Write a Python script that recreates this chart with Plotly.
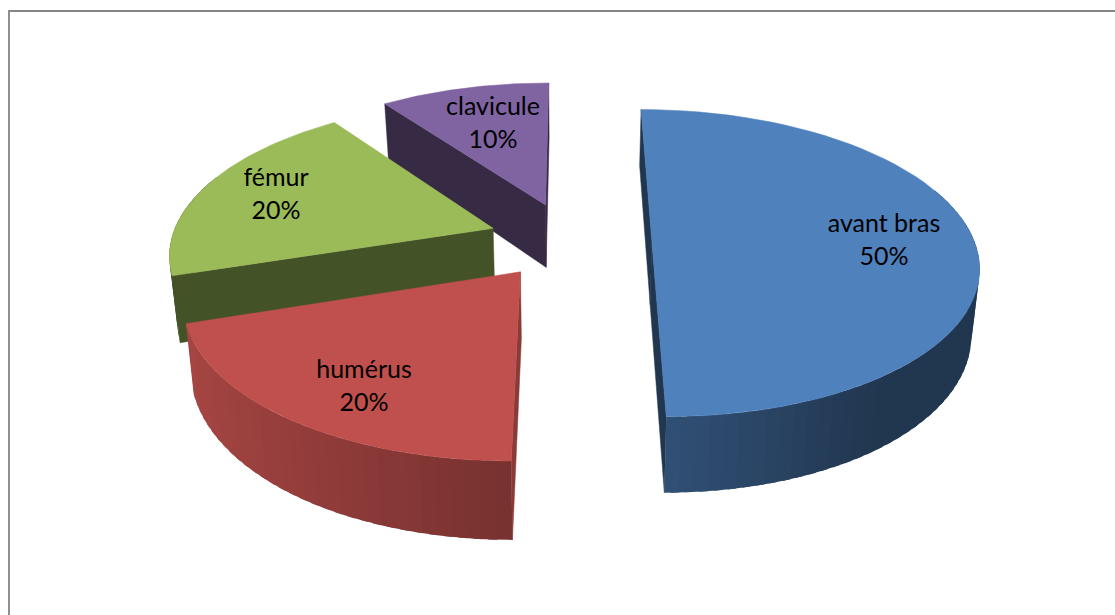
import math
import plotly.graph_objects as go

# ---- data ----
categories = ["avant bras", "humérus", "fémur", "clavicule"]
values = [50, 20, 20, 10]
colors = ["#4F81BD", "#C0504D", "#9BBB59", "#8064A2"]

# ---- pie projection (perspective tilted disc, in page pixels) ----
CX, CY, RX, RY, K, DEPTH, EXPLODE, SHRINK = 570.0, 240.0, 322.0, 114.0, 0.1504, 64.6, 0.254, 0.02
FACE_MULT = [0.42, 0.72, 0.44, 0.42]
WALL_GAIN = [1.0, 1.0, 0.5, 0.8]
LABEL_XY = [(884, 242), (364, 388), (276, 196), (493, 125)]


def project(X, Y, z=0.0):
    w = 1 + K * Y
    return CX + (1 - SHRINK * z) * RX * X / w, (CY + z * DEPTH - RY * Y) / w


def shade(hex_color, m):
    r, g, b = (int(hex_color[i:i + 2], 16) for i in (1, 3, 5))
    return f"rgb({round(r * m)},{round(g * m)},{round(b * m)})"


def poly(pts, color, outline=True):
    xs = [p[0] for p in pts] + [pts[0][0]]
    ys = [p[1] for p in pts] + [pts[0][1]]
    return go.Scatter(x=xs, y=ys, mode="lines", fill="toself", fillcolor=color,
                      line=dict(color=color, width=0.5 if outline else 0),
                      hoverinfo="skip", showlegend=False)


# slice spans clockwise from 12 o'clock
total = sum(values)
spans, start = [], 0.0
for v in values:
    a = v / total * 2 * math.pi
    spans.append((start, start + a))
    start += a

traces = []
for i in reversed(range(len(values))):
    a0, a1 = spans[i]
    mid = (a0 + a1) / 2
    ox, oy = EXPLODE * math.sin(mid), EXPLODE * math.cos(mid)
    col = colors[i]
    rim = lambda t: (ox + math.sin(t), oy + math.cos(t))
    vx, vy = -ox, -1 / K - oy  # viewer relative to the apex
    # radial faces, only those that look towards the viewer
    for t, sign in ((a0, 1), (a1, -1)):
        nx, ny = -math.cos(t) * sign, math.sin(t) * sign
        if vx * nx + vy * ny <= 0:
            continue
        X, Y = rim(t)
        traces.append(poly([project(ox, oy), project(X, Y), project(X, Y, 1), project(ox, oy, 1)],
                           shade(col, FACE_MULT[i])))
    # outer wall in overlapping shaded strips
    n = max(6, int(values[i] * 1.6))
    for j in range(n):
        t0 = a0 + (a1 - a0) * j / n
        t1 = min(a0 + (a1 - a0) * (j + 1.6) / n, a1)
        tm = a0 + (a1 - a0) * (j + 0.5) / n
        if math.cos(tm) > 0.35:
            continue
        s = math.sin(tm)
        m = max(0.42, 0.62 - 0.34 * s) if s > 0 else 0.62 - 0.26 * s
        m *= WALL_GAIN[i]
        pts = []
        for q in range(5):
            Xq, Yq = rim(t0 + (t1 - t0) * q / 4)
            pts.append(project(Xq, Yq))
        for q in range(4, -1, -1):
            Xq, Yq = rim(t0 + (t1 - t0) * q / 4)
            pts.append(project(Xq, Yq, 1))
        traces.append(poly(pts, shade(col, m), outline=False))
    # top
    steps = 60
    top = [project(ox, oy)]
    for j in range(steps + 1):
        X, Y = rim(a0 + (a1 - a0) * j / steps)
        top.append(project(X, Y))
    traces.append(poly(top, col))

fig = go.Figure(traces)
fig.add_trace(go.Scatter(
    x=[p[0] for p in LABEL_XY], y=[p[1] for p in LABEL_XY], mode="text",
    text=[f"{c}<br>{v}%" for c, v in zip(categories, values)],
    textposition="middle center",
    textfont=dict(family="Lato, Carlito, Calibri, sans-serif", size=25, color="#000000"),
    hoverinfo="skip", showlegend=False))

fig.update_layout(
    width=1115, height=615, autosize=False,
    margin=dict(l=0, r=0, t=0, b=0),
    paper_bgcolor="white", plot_bgcolor="white",
    xaxis=dict(range=[0, 1115], visible=False, fixedrange=True),
    yaxis=dict(range=[615, 0], visible=False, fixedrange=True),
    shapes=[
        dict(type="line", xref="x", yref="y", x0=8, x1=1115, y0=11, y1=11,
             line=dict(color="#868686", width=2)),
        dict(type="line", xref="x", yref="y", x0=9, x1=9, y0=10, y1=615,
             line=dict(color="#8f8f8f", width=2)),
    ],
)
fig.write_html("out.html", config=dict(displayModeBar=False),
               post_script="document.documentElement.style.overflow='hidden';document.body.style.margin='0';")
